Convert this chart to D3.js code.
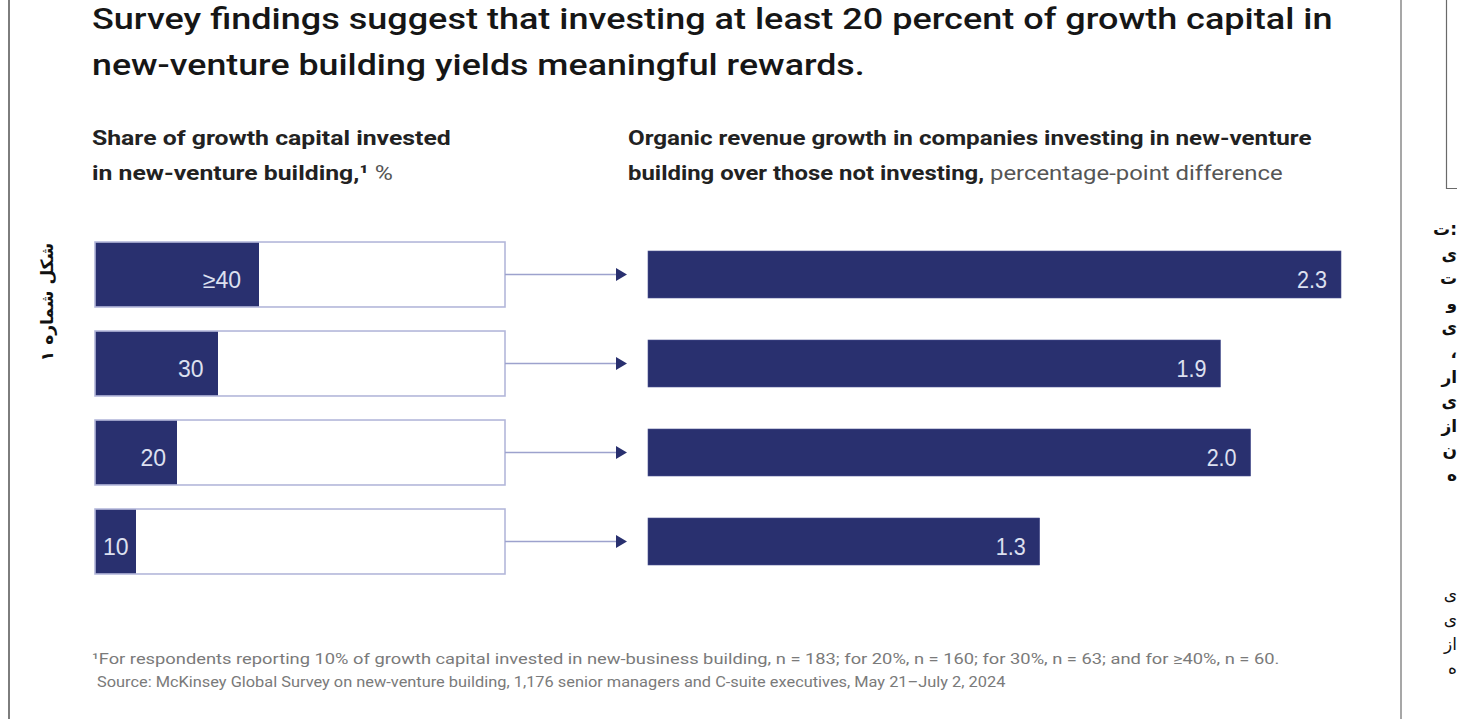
<!DOCTYPE html>
<html><head><meta charset="utf-8">
<script src="https://cdn.jsdelivr.net/npm/d3@7"></script>
<style>body{margin:0;background:#fff;overflow:hidden}svg{display:block}</style>
</head><body>
<svg id="c" width="1457" height="719"></svg>
<script>
// ---------- data ----------
const categories   = ["≥40", "30", "20", "10"];
const shareValues  = [40, 30, 20, 10];
const growthValues = [2.3, 1.9, 2.0, 1.3];
const growthLabels = ["2.3", "1.9", "2.0", "1.3"];
const titleLines   = [
  "Survey findings suggest that investing at least 20 percent of growth capital in",
  "new-venture building yields meaningful rewards."
];
const leftHeading  = ["Share of growth capital invested", "in new-venture building,¹ %"];
const rightHeading1 = "Organic revenue growth in companies investing in new-venture";
const rightHeading2Bold = "building over those not investing,";
const rightHeading2Reg  = " percentage-point difference";
const footnotes = [
  "¹For respondents reporting 10% of growth capital invested in new-business building, n = 183; for 20%, n = 160; for 30%, n = 63; and for ≥40%, n = 60.",
  "Source: McKinsey Global Survey on new-venture building, 1,176 senior managers and C-suite executives, May 21–July 2, 2024"
];
const sideLabel = "شکل شماره ۱";
const pageFragmentsBold = ["ت:", "ی", "ت", "و", "ی", "،", "ار", "ی", "از", "ن", "ه"];
const pageFragmentsReg  = ["ی", "ی", "از", "ه"];

// ---------- setup ----------
const NAVY = "#29306f";
const svg = d3.select("#c");
const FONT = "Roboto, 'Liberation Sans', sans-serif";

function addText(parent, x, y, parts, o) {
  const g = parent.append("g");
  const t = g.append("text")
    .attr("font-family", o.family || FONT)
    .attr("font-size", o.size)
    .attr("text-anchor", o.anchor || "start");
  if (o.baseline) t.attr("dominant-baseline", o.baseline);
  parts.forEach(p => {
    t.append("tspan").text(p.text)
      .attr("font-weight", p.weight || o.weight || 400)
      .attr("fill", p.fill || o.fill || "#000");
  });
  let sx = 1;
  if (o.width) {
    const w = t.node().getBBox().width;
    if (w > 0) sx = o.width / w;
  }
  g.attr("transform", `translate(${x},${y})${o.rotate ? ` rotate(${o.rotate})` : ""} scale(${sx},1)`);
  return g;
}

// page frame lines (document context)
svg.append("line").attr("x1", 9).attr("x2", 9).attr("y1", 0).attr("y2", 719)
  .attr("stroke", "#7d7d7d").attr("stroke-width", 2);
svg.append("line").attr("x1", 1401).attr("x2", 1401).attr("y1", 0).attr("y2", 719)
  .attr("stroke", "#8a8a8a").attr("stroke-width", 1.5);
svg.append("path").attr("d", "M1446.5,0V188.5H1457")
  .attr("fill", "none").attr("stroke", "#6a6a6a").attr("stroke-width", 1.2);

// ---------- titles ----------
addText(svg, 92, 29, [{text: titleLines[0]}], {size: 30, weight: 500, fill: "#161616", width: 1241});
addText(svg, 92, 75, [{text: titleLines[1]}], {size: 30, weight: 500, fill: "#161616", width: 773});

addText(svg, 92, 145, [{text: leftHeading[0]}], {size: 21, weight: 700, fill: "#222", width: 359});
addText(svg, 92, 180, [{text: "in new-venture building,¹ ", weight: 700}, {text: "%", weight: 400, fill: "#555"}],
  {size: 21, fill: "#222", width: 301});

addText(svg, 628, 145, [{text: rightHeading1}], {size: 21, weight: 700, fill: "#222", width: 684});
addText(svg, 628, 180, [{text: rightHeading2Bold, weight: 700}, {text: rightHeading2Reg, weight: 400, fill: "#555"}],
  {size: 21, fill: "#222", width: 655});

// ---------- scales ----------
const y = d3.scaleBand().domain(categories).range([230, 586]).paddingInner(0.27).paddingOuter(0.135);
const xShare = d3.scaleLinear().domain([0, 100]).range([95, 505]);
const xGrowth = d3.scaleLinear().domain([0, 2.3]).range([648, 1341]);
const rightH = 47;

const rows = categories.map((c, i) => ({c, share: shareValues[i], growth: growthValues[i], gl: growthLabels[i]}));

// left boxes
const left = svg.append("g");
left.selectAll("rect.fill").data(rows).join("rect")
  .attr("x", xShare(0)).attr("y", d => y(d.c))
  .attr("width", d => xShare(d.share) - xShare(0)).attr("height", y.bandwidth())
  .attr("fill", NAVY);
left.selectAll("rect.box").data(rows).join("rect")
  .attr("x", xShare(0)).attr("y", d => y(d.c))
  .attr("width", xShare(100) - xShare(0)).attr("height", y.bandwidth())
  .attr("fill", "none").attr("stroke", "#b3b7da").attr("stroke-width", 1.6);
rows.forEach(d => {
  const pad = 4 + d.share * 0.35;
  addText(left, xShare(d.share) - pad, y(d.c) + y.bandwidth() / 2 + 13, [{text: d.c}],
    {size: 23, fill: "#dde0f0", anchor: "end", family: "'Liberation Sans', Arial, sans-serif"});
});

// arrows
const arr = svg.append("g");
arr.selectAll("line").data(rows).join("line")
  .attr("x1", xShare(100)).attr("x2", xGrowth(0) - 28)
  .attr("y1", d => y(d.c) + y.bandwidth() / 2).attr("y2", d => y(d.c) + y.bandwidth() / 2)
  .attr("stroke", "#9da2cd").attr("stroke-width", 1.6);
arr.selectAll("path").data(rows).join("path")
  .attr("d", d => {
    const cy = y(d.c) + y.bandwidth() / 2, tip = xGrowth(0) - 21;
    const p = d3.path();
    p.moveTo(tip - 11, cy - 6.5); p.lineTo(tip, cy); p.lineTo(tip - 11, cy + 6.5); p.closePath();
    return p.toString();
  })
  .attr("fill", NAVY);

// right bars
const right = svg.append("g");
right.selectAll("rect").data(rows).join("rect")
  .attr("x", xGrowth(0)).attr("y", d => y(d.c) + y.bandwidth() / 2 - rightH / 2)
  .attr("width", d => xGrowth(d.growth) - xGrowth(0)).attr("height", rightH)
  .attr("fill", NAVY).attr("stroke", "#4a5190").attr("stroke-width", 0.6);
rows.forEach(d => {
  addText(right, xGrowth(d.growth) - 14, y(d.c) + y.bandwidth() / 2 + 13, [{text: d.gl}],
    {size: 24, fill: "#dde0f0", anchor: "end", family: "'Liberation Sans', Arial, sans-serif", width: 30});
});

// footnotes
addText(svg, 92, 664, [{text: footnotes[0]}], {size: 15, fill: "#7a7a7a", width: 1188});
addText(svg, 97, 687, [{text: footnotes[1]}], {size: 15, fill: "#7a7a7a", width: 910});

// vertical side label
addText(svg, 47, 302, [{text: sideLabel}],
  {size: 17, weight: 700, fill: "#111", anchor: "middle", baseline: "central",
   family: "'DejaVu Sans', sans-serif", rotate: -90});

// right-edge page fragments
pageFragmentsBold.forEach((t, i) => {
  addText(svg, 1457, 235 + i * 24.6, [{text: t}],
    {size: 17, weight: 700, fill: "#111", anchor: "end", family: "'DejaVu Sans', sans-serif"});
});
pageFragmentsReg.forEach((t, i) => {
  addText(svg, 1457, 600 + i * 24.8, [{text: t}],
    {size: 17, weight: 400, fill: "#111", anchor: "end", family: "'DejaVu Sans', sans-serif"});
});
</script>
</body></html>
